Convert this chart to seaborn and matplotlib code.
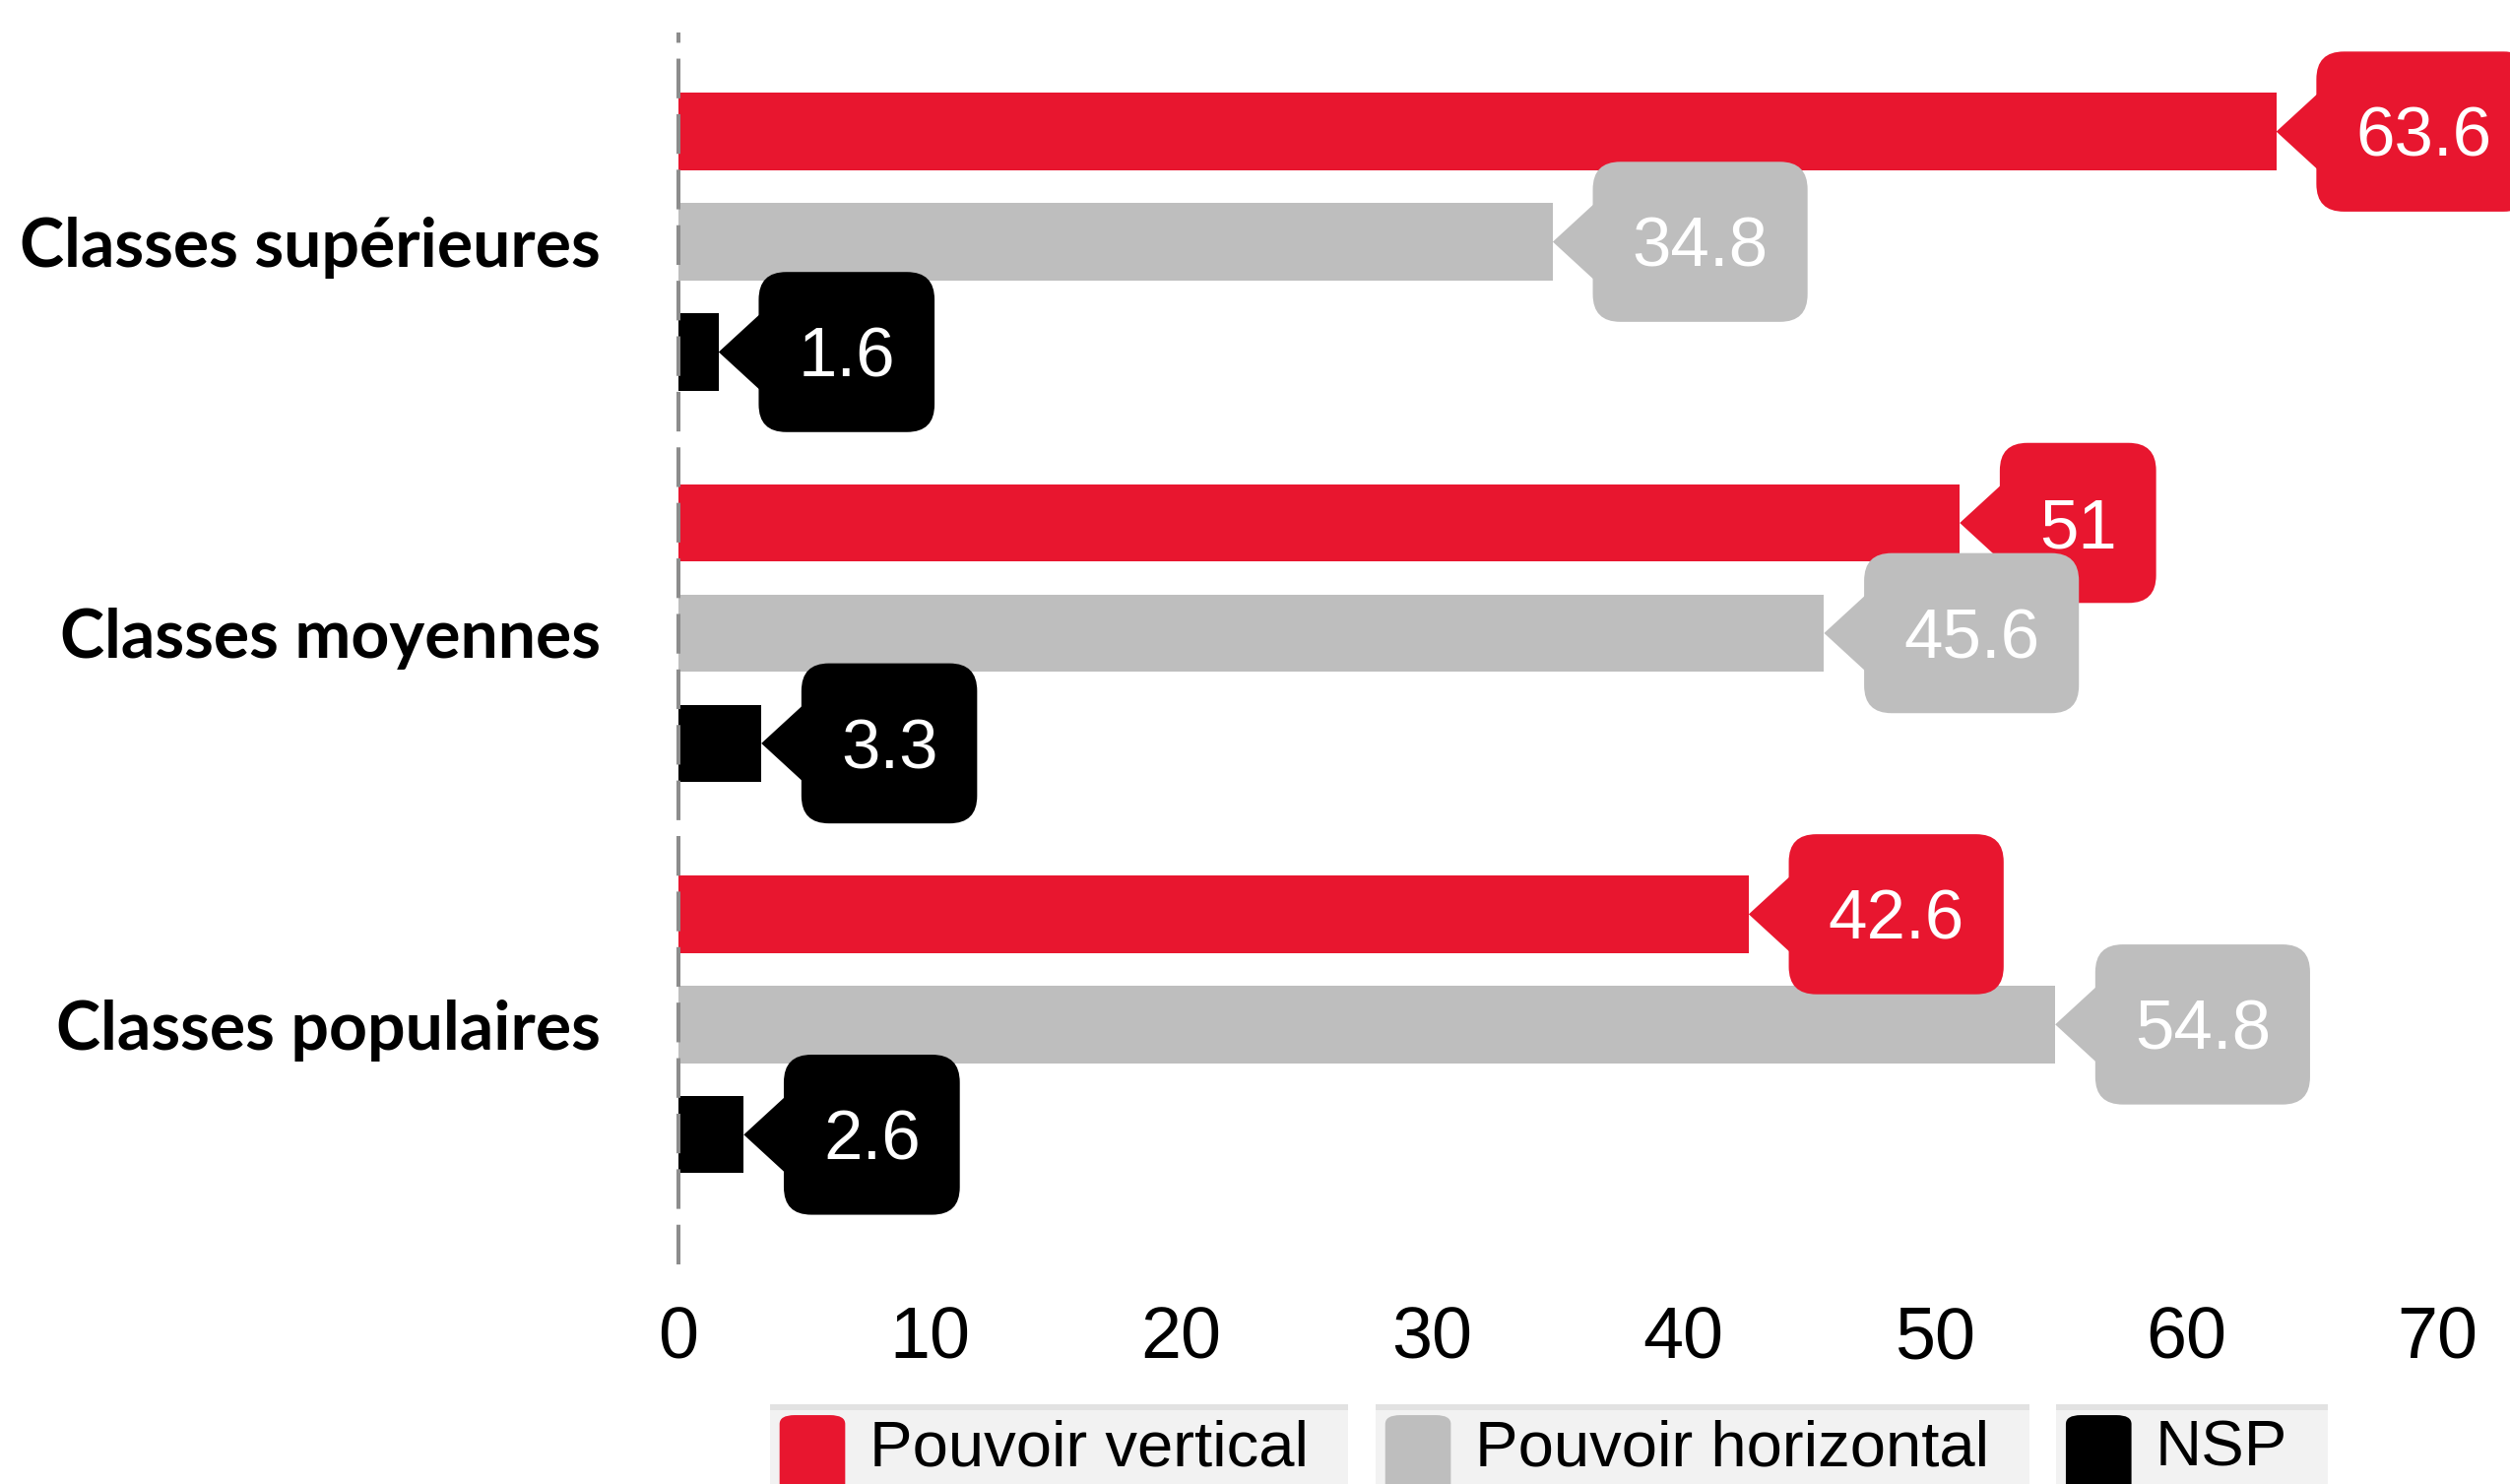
import numpy as np
import pandas as pd
import matplotlib
matplotlib.use("Agg")
import matplotlib.pyplot as plt
import seaborn as sns
from matplotlib.patches import Polygon, FancyBboxPatch, Rectangle
from matplotlib.transforms import IdentityTransform

# Data
classes = ['Classes supérieures', 'Classes moyennes', 'Classes populaires']
series = ['Pouvoir vertical', 'Pouvoir horizontal', 'NSP']
vertical = [63.6, 51, 42.6]
horizontal = [34.8, 45.6, 54.8]
nsp = [1.6, 3.3, 2.6]
colors = ['#E8162F', '#BEBEBE', '#000000']
xticks = [0, 10, 20, 30, 40, 50, 60, 70]

df = pd.DataFrame({
    'classe': classes * 3,
    'serie': np.repeat(series, len(classes)),
    'valeur': vertical + horizontal + nsp,
})

sns.set_style('white')
plt.rcParams['text.color'] = 'black'
plt.rcParams['xtick.color'] = 'black'
plt.rcParams['ytick.color'] = 'black'

W, H = 2549, 1507
s = 2549 / 1568  # reference display -> pixels
fig = plt.figure(figsize=(W / 100, H / 100), dpi=100)
ax = fig.add_axes([0.2703, 0.148, 0.7297, 0.8304])

sns.barplot(data=df, y='classe', x='valeur', hue='serie', order=classes,
            hue_order=series, palette=colors, orient='h', width=0.845, gap=0.3,
            saturation=1, errorbar=None, legend=False, linewidth=0, ax=ax)

ax.set_xlim(0, 72.9)
ax.set_ylim(2.613, -0.536)
ax.axvline(0, color='#8C8C8C', lw=2.9, dashes=(10, 4), zorder=5, clip_on=False)
sns.despine(ax=ax, left=True, bottom=True)
ax.set_xlabel('')
ax.set_ylabel('')
ax.set_xticks(xticks)
ax.set_xticklabels([str(t) for t in xticks], fontsize=53, family='Liberation Sans')
ax.tick_params(axis='x', length=0, pad=30)
ax.tick_params(axis='y', length=0, pad=57)
for lab in ax.get_yticklabels():
    lab.set_fontfamily('Lato')
    lab.set_fontweight('bold')
    lab.set_fontsize(49)

# value labels with pointer boxes (drawn in pixel space)
renderer = fig.canvas.get_renderer()
fs = 51
fs_px = fs * 100 / 72
box_h = 100 * s
pad = 40
gap = 25 * s
for cont, color in zip(ax.containers, colors):
    for bar in cont:
        v = bar.get_width()
        yc = bar.get_y() + bar.get_height() / 2
        px, py = ax.transData.transform((v, yc))
        left = px + gap
        t = ax.text(0, 0, f'{v:g}', transform=IdentityTransform(), color='white',
                    fontsize=fs, family='Liberation Sans', ha='center', va='baseline',
                    zorder=8, clip_on=False)
        tw = t.get_window_extent(renderer).width
        bw = tw + 2 * pad
        t.set_position((left + bw / 2, py - 0.358 * fs_px))
        r = 28
        box = FancyBboxPatch((left, py - box_h / 2), bw, box_h,
                             boxstyle=f'round,pad=0,rounding_size={r}',
                             transform=IdentityTransform(), fc=color, ec='none',
                             zorder=7, clip_on=False)
        ax.add_patch(box)
        tri = Polygon([(px, py), (left + 4, py + 41), (left + 4, py - 41)], closed=True,
                      transform=IdentityTransform(), fc=color, ec='none',
                      zorder=6, clip_on=False)
        ax.add_patch(tri)

# legend at the bottom
x = 481 * s
box_top = H - 877 * s
key_top = H - 884 * s
text_y = H - 905 * s
for label, color in zip(series, colors):
    tx = x + (6 + 41 + 15) * s
    t = fig.text(tx / W, text_y / H, label, fontsize=47, family='Liberation Sans',
                 ha='left', va='center', color='black', zorder=5)
    tw = t.get_window_extent(renderer).width
    right = tx + tw + 25 * s
    fig.patches.append(Rectangle((x / W, -0.05), (right - x) / W, box_top / H + 0.05,
                                 transform=fig.transFigure, fc='#F2F2F2', ec='none', zorder=1))
    fig.patches.append(Rectangle((x / W, (box_top - 6) / H), (right - x) / W, 6 / H,
                                 transform=fig.transFigure, fc='#E2E2E2', ec='none', zorder=2))
    kx = x + 6 * s
    fig.patches.append(FancyBboxPatch((kx / W, -0.05), 41 * s / W, key_top / H + 0.05,
                                      boxstyle='round,pad=0,rounding_size=0.006',
                                      transform=fig.transFigure, fc=color, ec='none', zorder=3))
    x = right + 17 * s

fig.savefig('out.png', dpi=100)
